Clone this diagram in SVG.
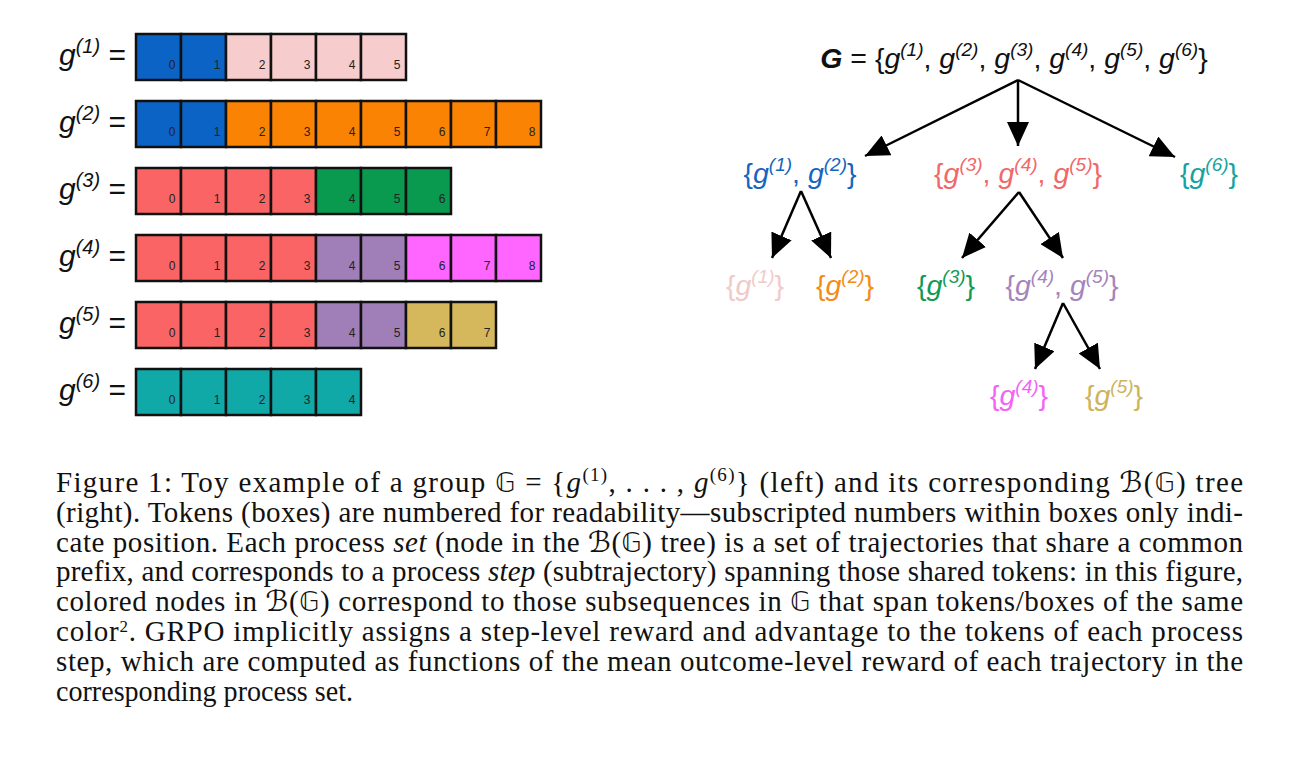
<svg xmlns="http://www.w3.org/2000/svg" width="1300" height="763" viewBox="0 0 1300 763">
<defs>
<style>
.bx{stroke:#111;stroke-width:2.5}
.num{font-family:"Liberation Sans",Arial,sans-serif;font-size:12px;fill:#222;text-anchor:middle}
.lab{font-family:"Liberation Sans",Arial,sans-serif;font-size:30px;fill:#111}
.it{font-style:italic}
.sup{font-size:19px;font-style:italic}
.lsup{font-size:20px;font-style:italic}
.tl{font-family:"Liberation Sans",Arial,sans-serif;font-size:28.5px;text-anchor:middle}
.cap{font-family:"Liberation Serif","Times New Roman",serif;font-size:29px;fill:#111}
.csup{font-size:19px}
.bb{font-family:"DejaVu Sans",sans-serif;font-size:26px}
.cal{font-family:"DejaVu Serif","DejaVu Sans",serif;font-style:italic}
.b{fill:#0b63c6}.pk{fill:#f6cccc}.o{fill:#fb8303}.r{fill:#fa6464}.g{fill:#0a9a4f}.p{fill:#a07fb9}.m{fill:#ff66ff}.y{fill:#d6b85c}.t{fill:#11a8a8}
</style>
<marker id="ah" viewBox="0 0 24 22" refX="24" refY="11" markerWidth="24" markerHeight="22" markerUnits="userSpaceOnUse" orient="auto">
<path d="M0,0 L24,11 L0,22 z" fill="#000"/>
</marker>
</defs>

<!-- sequences -->
<g id="seq1">
<text class="lab" x="59" y="65"><tspan class="it">g</tspan><tspan class="lsup" dy="-12">(1)</tspan><tspan dy="12"> =</tspan></text>
<rect class="bx b" x="136" y="34" width="45" height="46"/><rect class="bx b" x="181" y="34" width="45" height="46"/>
<rect class="bx pk" x="226" y="34" width="45" height="46"/><rect class="bx pk" x="271" y="34" width="45" height="46"/><rect class="bx pk" x="316" y="34" width="45" height="46"/><rect class="bx pk" x="361" y="34" width="45" height="46"/>
<text class="num" y="69"><tspan x="172">0</tspan><tspan x="217">1</tspan><tspan x="262">2</tspan><tspan x="307">3</tspan><tspan x="352">4</tspan><tspan x="397">5</tspan></text>
</g>
<g id="seq2">
<text class="lab" x="59" y="132"><tspan class="it">g</tspan><tspan class="lsup" dy="-12">(2)</tspan><tspan dy="12"> =</tspan></text>
<rect class="bx b" x="136" y="101" width="45" height="46"/><rect class="bx b" x="181" y="101" width="45" height="46"/>
<rect class="bx o" x="226" y="101" width="45" height="46"/><rect class="bx o" x="271" y="101" width="45" height="46"/><rect class="bx o" x="316" y="101" width="45" height="46"/><rect class="bx o" x="361" y="101" width="45" height="46"/><rect class="bx o" x="406" y="101" width="45" height="46"/><rect class="bx o" x="451" y="101" width="45" height="46"/><rect class="bx o" x="496" y="101" width="45" height="46"/>
<text class="num" y="136"><tspan x="172">0</tspan><tspan x="217">1</tspan><tspan x="262">2</tspan><tspan x="307">3</tspan><tspan x="352">4</tspan><tspan x="397">5</tspan><tspan x="442">6</tspan><tspan x="487">7</tspan><tspan x="532">8</tspan></text>
</g>
<g id="seq3">
<text class="lab" x="59" y="199"><tspan class="it">g</tspan><tspan class="lsup" dy="-12">(3)</tspan><tspan dy="12"> =</tspan></text>
<rect class="bx r" x="136" y="168" width="45" height="46"/><rect class="bx r" x="181" y="168" width="45" height="46"/><rect class="bx r" x="226" y="168" width="45" height="46"/><rect class="bx r" x="271" y="168" width="45" height="46"/>
<rect class="bx g" x="316" y="168" width="45" height="46"/><rect class="bx g" x="361" y="168" width="45" height="46"/><rect class="bx g" x="406" y="168" width="45" height="46"/>
<text class="num" y="203"><tspan x="172">0</tspan><tspan x="217">1</tspan><tspan x="262">2</tspan><tspan x="307">3</tspan><tspan x="352">4</tspan><tspan x="397">5</tspan><tspan x="442">6</tspan></text>
</g>
<g id="seq4">
<text class="lab" x="59" y="266"><tspan class="it">g</tspan><tspan class="lsup" dy="-12">(4)</tspan><tspan dy="12"> =</tspan></text>
<rect class="bx r" x="136" y="235" width="45" height="46"/><rect class="bx r" x="181" y="235" width="45" height="46"/><rect class="bx r" x="226" y="235" width="45" height="46"/><rect class="bx r" x="271" y="235" width="45" height="46"/>
<rect class="bx p" x="316" y="235" width="45" height="46"/><rect class="bx p" x="361" y="235" width="45" height="46"/>
<rect class="bx m" x="406" y="235" width="45" height="46"/><rect class="bx m" x="451" y="235" width="45" height="46"/><rect class="bx m" x="496" y="235" width="45" height="46"/>
<text class="num" y="270"><tspan x="172">0</tspan><tspan x="217">1</tspan><tspan x="262">2</tspan><tspan x="307">3</tspan><tspan x="352">4</tspan><tspan x="397">5</tspan><tspan x="442">6</tspan><tspan x="487">7</tspan><tspan x="532">8</tspan></text>
</g>
<g id="seq5">
<text class="lab" x="59" y="333"><tspan class="it">g</tspan><tspan class="lsup" dy="-12">(5)</tspan><tspan dy="12"> =</tspan></text>
<rect class="bx r" x="136" y="302" width="45" height="46"/><rect class="bx r" x="181" y="302" width="45" height="46"/><rect class="bx r" x="226" y="302" width="45" height="46"/><rect class="bx r" x="271" y="302" width="45" height="46"/>
<rect class="bx p" x="316" y="302" width="45" height="46"/><rect class="bx p" x="361" y="302" width="45" height="46"/>
<rect class="bx y" x="406" y="302" width="45" height="46"/><rect class="bx y" x="451" y="302" width="45" height="46"/>
<text class="num" y="337"><tspan x="172">0</tspan><tspan x="217">1</tspan><tspan x="262">2</tspan><tspan x="307">3</tspan><tspan x="352">4</tspan><tspan x="397">5</tspan><tspan x="442">6</tspan><tspan x="487">7</tspan></text>
</g>
<g id="seq6">
<text class="lab" x="59" y="400"><tspan class="it">g</tspan><tspan class="lsup" dy="-12">(6)</tspan><tspan dy="12"> =</tspan></text>
<rect class="bx t" x="136" y="369" width="45" height="46"/><rect class="bx t" x="181" y="369" width="45" height="46"/><rect class="bx t" x="226" y="369" width="45" height="46"/><rect class="bx t" x="271" y="369" width="45" height="46"/><rect class="bx t" x="316" y="369" width="45" height="46"/>
<text class="num" y="404"><tspan x="172">0</tspan><tspan x="217">1</tspan><tspan x="262">2</tspan><tspan x="307">3</tspan><tspan x="352">4</tspan></text>
</g>

<!-- tree nodes -->
<g id="root">
<text class="tl" x="1014" y="68" fill="#111"><tspan font-weight="bold" font-style="italic">G</tspan> = {<tspan class="it">g</tspan><tspan class="sup" dy="-12">(1)</tspan><tspan dy="12">, </tspan><tspan class="it">g</tspan><tspan class="sup" dy="-12">(2)</tspan><tspan dy="12">, </tspan><tspan class="it">g</tspan><tspan class="sup" dy="-12">(3)</tspan><tspan dy="12">, </tspan><tspan class="it">g</tspan><tspan class="sup" dy="-12">(4)</tspan><tspan dy="12">, </tspan><tspan class="it">g</tspan><tspan class="sup" dy="-12">(5)</tspan><tspan dy="12">, </tspan><tspan class="it">g</tspan><tspan class="sup" dy="-12">(6)</tspan><tspan dy="12">}</tspan></text>
</g>
<g id="n12">
<text class="tl" x="800" y="183" fill="#1565c0">{<tspan class="it">g</tspan><tspan class="sup" dy="-12">(1)</tspan><tspan dy="12">, </tspan><tspan class="it">g</tspan><tspan class="sup" dy="-12">(2)</tspan><tspan dy="12">}</tspan></text>
</g>
<g id="n345">
<text class="tl" x="1018" y="183" fill="#f06868">{<tspan class="it">g</tspan><tspan class="sup" dy="-12">(3)</tspan><tspan dy="12">, </tspan><tspan class="it">g</tspan><tspan class="sup" dy="-12">(4)</tspan><tspan dy="12">, </tspan><tspan class="it">g</tspan><tspan class="sup" dy="-12">(5)</tspan><tspan dy="12">}</tspan></text>
</g>
<g id="n6">
<text class="tl" x="1209" y="183" fill="#16a3a0">{<tspan class="it">g</tspan><tspan class="sup" dy="-12">(6)</tspan><tspan dy="12">}</tspan></text>
</g>
<g id="n1">
<text class="tl" x="755" y="295" fill="#f2c9c9">{<tspan class="it">g</tspan><tspan class="sup" dy="-12">(1)</tspan><tspan dy="12">}</tspan></text>
</g>
<g id="n2">
<text class="tl" x="845" y="295" fill="#f38c16">{<tspan class="it">g</tspan><tspan class="sup" dy="-12">(2)</tspan><tspan dy="12">}</tspan></text>
</g>
<g id="n3">
<text class="tl" x="946" y="295" fill="#0f9a55">{<tspan class="it">g</tspan><tspan class="sup" dy="-12">(3)</tspan><tspan dy="12">}</tspan></text>
</g>
<g id="n45">
<text class="tl" x="1062" y="295" fill="#a384bc">{<tspan class="it">g</tspan><tspan class="sup" dy="-12">(4)</tspan><tspan dy="12">, </tspan><tspan class="it">g</tspan><tspan class="sup" dy="-12">(5)</tspan><tspan dy="12">}</tspan></text>
</g>
<g id="n4">
<text class="tl" x="1019" y="405" fill="#f462f4">{<tspan class="it">g</tspan><tspan class="sup" dy="-12">(4)</tspan><tspan dy="12">}</tspan></text>
</g>
<g id="n5">
<text class="tl" x="1114" y="405" fill="#cdb45a">{<tspan class="it">g</tspan><tspan class="sup" dy="-12">(5)</tspan><tspan dy="12">}</tspan></text>
</g>

<!-- connectors -->
<g id="connectors" stroke="#000" stroke-width="2.5" fill="none">
<line x1="1018" y1="80" x2="865" y2="156" marker-end="url(#ah)"/>
<line x1="1018" y1="80" x2="1018" y2="146" marker-end="url(#ah)"/>
<line x1="1018" y1="80" x2="1175" y2="157" marker-end="url(#ah)"/>
<line x1="801" y1="191" x2="772" y2="258" marker-end="url(#ah)"/>
<line x1="801" y1="191" x2="831" y2="258" marker-end="url(#ah)"/>
<line x1="1019" y1="192" x2="962" y2="258" marker-end="url(#ah)"/>
<line x1="1019" y1="192" x2="1063" y2="258" marker-end="url(#ah)"/>
<line x1="1063" y1="303" x2="1035" y2="369" marker-end="url(#ah)"/>
<line x1="1063" y1="303" x2="1100" y2="369" marker-end="url(#ah)"/>
</g>

<!-- caption -->
<g id="caption" class="cap">
<text x="56" y="492" textLength="1187" lengthAdjust="spacing">Figure 1: Toy example of a group <tspan class="bb">𝔾</tspan> = {<tspan font-style="italic">g</tspan><tspan class="csup" dy="-11">(1)</tspan><tspan dy="11">, . . . , </tspan><tspan font-style="italic">g</tspan><tspan class="csup" dy="-11">(6)</tspan><tspan dy="11">} (left) and its corresponding </tspan><tspan class="cal">ℬ</tspan>(<tspan class="bb">𝔾</tspan>) tree</text>
<text x="56" y="521.8" textLength="1187" lengthAdjust="spacing">(right). Tokens (boxes) are numbered for readability—subscripted numbers within boxes only indi-</text>
<text x="56" y="551.6" textLength="1187" lengthAdjust="spacing">cate position. Each process <tspan font-style="italic">set</tspan> (node in the <tspan class="cal">ℬ</tspan>(<tspan class="bb">𝔾</tspan>) tree) is a set of trajectories that share a common</text>
<text x="56" y="581.4" textLength="1187" lengthAdjust="spacing">prefix, and corresponds to a process <tspan font-style="italic">step</tspan> (subtrajectory) spanning those shared tokens: in this figure,</text>
<text x="56" y="611.2" textLength="1187" lengthAdjust="spacing">colored nodes in <tspan class="cal">ℬ</tspan>(<tspan class="bb">𝔾</tspan>) correspond to those subsequences in <tspan class="bb">𝔾</tspan> that span tokens/boxes of the same</text>
<text x="56" y="641" textLength="1187" lengthAdjust="spacing">color<tspan font-size="17px" dy="-9">2</tspan><tspan dy="9">. GRPO implicitly assigns a step-level reward and advantage to the tokens of each process</tspan></text>
<text x="56" y="670.8" textLength="1187" lengthAdjust="spacing">step, which are computed as functions of the mean outcome-level reward of each trajectory in the</text>
<text x="56" y="700.6" textLength="297" lengthAdjust="spacingAndGlyphs">corresponding process set.</text>
</g>
</svg>
